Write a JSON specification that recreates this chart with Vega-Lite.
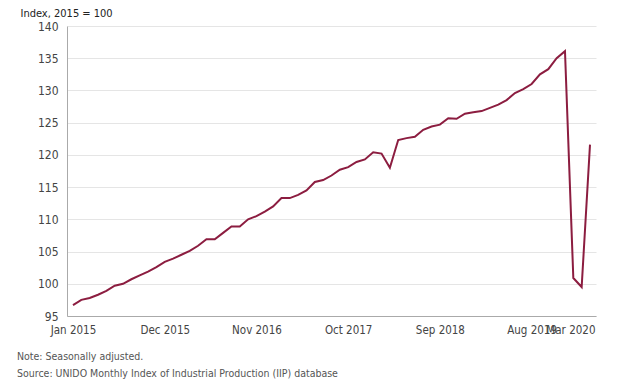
{
  "$schema": "https://vega.github.io/schema/vega-lite/v6.json",
  "width": 529,
  "height": 290,
  "autosize": {"type": "none"},
  "padding": {"left": 67, "top": 26, "right": 39, "bottom": 76},
  "background": "white",
  "config": {"view": {"stroke": null}, "font": "DejaVu Sans Condensed, Roboto, sans-serif"},
  "title": {
    "text": ["Note: Seasonally adjusted.", "Source: UNIDO Monthly Index of Industrial Production (IIP) database"],
    "orient": "bottom",
    "anchor": "start",
    "frame": "group",
    "dx": -50,
    "offset": 16,
    "fontSize": 10.5,
    "font": "DejaVu Sans Condensed, Roboto, sans-serif",
    "fontWeight": "normal",
    "color": "#555555",
    "lineHeight": 17
  },
  "data": {
    "values": [
      {"month": "Jan 2015", "value": 96.7},
      {"month": "Feb 2015", "value": 97.5},
      {"month": "Mar 2015", "value": 97.8},
      {"month": "Apr 2015", "value": 98.3},
      {"month": "May 2015", "value": 98.9},
      {"month": "Jun 2015", "value": 99.7},
      {"month": "Jul 2015", "value": 100.0},
      {"month": "Aug 2015", "value": 100.7},
      {"month": "Sep 2015", "value": 101.3},
      {"month": "Oct 2015", "value": 101.9},
      {"month": "Nov 2015", "value": 102.6},
      {"month": "Dec 2015", "value": 103.4},
      {"month": "Jan 2016", "value": 103.9},
      {"month": "Feb 2016", "value": 104.5},
      {"month": "Mar 2016", "value": 105.1},
      {"month": "Apr 2016", "value": 105.9},
      {"month": "May 2016", "value": 106.9},
      {"month": "Jun 2016", "value": 106.9},
      {"month": "Jul 2016", "value": 107.9},
      {"month": "Aug 2016", "value": 108.9},
      {"month": "Sep 2016", "value": 108.9},
      {"month": "Oct 2016", "value": 110.0},
      {"month": "Nov 2016", "value": 110.5},
      {"month": "Dec 2016", "value": 111.2},
      {"month": "Jan 2017", "value": 112.0},
      {"month": "Feb 2017", "value": 113.3},
      {"month": "Mar 2017", "value": 113.3},
      {"month": "Apr 2017", "value": 113.8},
      {"month": "May 2017", "value": 114.5},
      {"month": "Jun 2017", "value": 115.8},
      {"month": "Jul 2017", "value": 116.1},
      {"month": "Aug 2017", "value": 116.8},
      {"month": "Sep 2017", "value": 117.7},
      {"month": "Oct 2017", "value": 118.1},
      {"month": "Nov 2017", "value": 118.9},
      {"month": "Dec 2017", "value": 119.3},
      {"month": "Jan 2018", "value": 120.4},
      {"month": "Feb 2018", "value": 120.2},
      {"month": "Mar 2018", "value": 118.0},
      {"month": "Apr 2018", "value": 122.3},
      {"month": "May 2018", "value": 122.6},
      {"month": "Jun 2018", "value": 122.8},
      {"month": "Jul 2018", "value": 123.9},
      {"month": "Aug 2018", "value": 124.4},
      {"month": "Sep 2018", "value": 124.7},
      {"month": "Oct 2018", "value": 125.7},
      {"month": "Nov 2018", "value": 125.6},
      {"month": "Dec 2018", "value": 126.4},
      {"month": "Jan 2019", "value": 126.6},
      {"month": "Feb 2019", "value": 126.8},
      {"month": "Mar 2019", "value": 127.3},
      {"month": "Apr 2019", "value": 127.8},
      {"month": "May 2019", "value": 128.5},
      {"month": "Jun 2019", "value": 129.6},
      {"month": "Jul 2019", "value": 130.2},
      {"month": "Aug 2019", "value": 131.0},
      {"month": "Sep 2019", "value": 132.5},
      {"month": "Oct 2019", "value": 133.3},
      {"month": "Nov 2019", "value": 135.0},
      {"month": "Dec 2019", "value": 136.1},
      {"month": "Jan 2020", "value": 100.9},
      {"month": "Feb 2020", "value": 99.5},
      {"month": "Mar 2020", "value": 121.6}
    ]
  },
  "mark": {"type": "line", "color": "#8C1D40", "strokeWidth": 2},
  "encoding": {
    "x": {
      "field": "month",
      "type": "ordinal",
      "sort": null,
      "scale": {"type": "point", "padding": 0.72},
      "axis": {
        "title": null,
        "values": ["Jan 2015", "Dec 2015", "Nov 2016", "Oct 2017", "Sep 2018", "Aug 2019", "Mar 2020"],
        "labelAngle": 0,
        "ticks": false,
        "grid": false,
        "domainColor": "#aaaaaa",
        "labelFontSize": 11.5,
        "labelColor": "#444444",
        "labelPadding": 8,
        "labelOverlap": false,
        "labelAlign": {"condition": {"test": "datum.value == 'Mar 2020'", "value": "right"}, "value": "center"},
        "labelOffset": {"condition": {"test": "datum.value == 'Mar 2020'", "value": 5}, "value": 0}
      }
    },
    "y": {
      "field": "value",
      "type": "quantitative",
      "scale": {"domain": [95, 140], "nice": false, "zero": false},
      "axis": {
        "values": [95, 100, 105, 110, 115, 120, 125, 130, 135, 140],
        "title": "Index, 2015 = 100",
        "titleAngle": 0,
        "titleAlign": "left",
        "titleBaseline": "alphabetic",
        "titleX": -47,
        "titleY": -10,
        "titleFontSize": 11,
        "titleFontWeight": "normal",
        "titleColor": "#222222",
        "ticks": false,
        "labelPadding": 9,
        "labelFontSize": 12,
        "labelColor": "#444444",
        "gridColor": "#e5e5e5",
        "domainColor": "#aaaaaa"
      }
    }
  }
}
